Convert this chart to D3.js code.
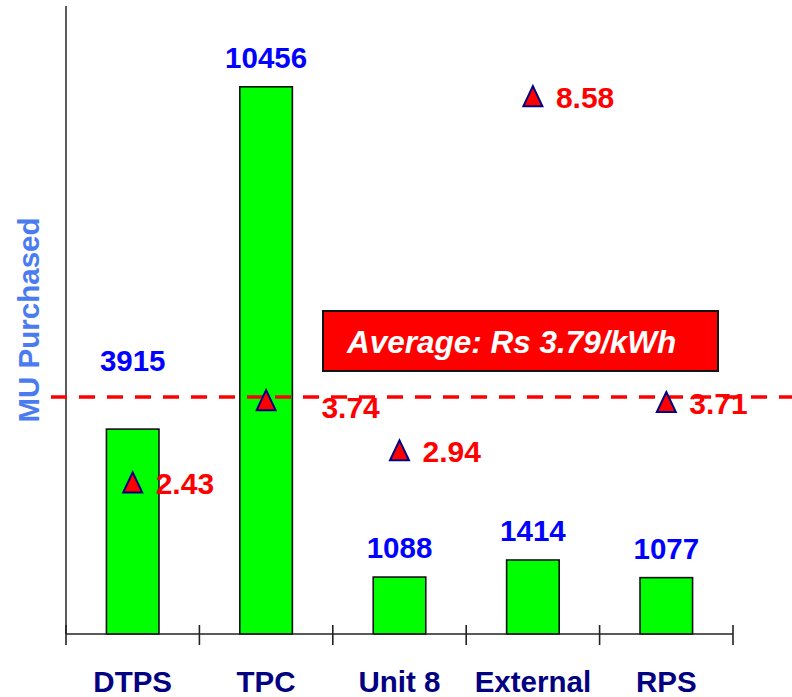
<!DOCTYPE html>
<html>
<head>
<meta charset="utf-8">
<script src="https://cdn.jsdelivr.net/npm/d3@7"></script>
<style>
  body { margin: 0; background: #fff; }
  text { font-family: "Liberation Sans", Arial, sans-serif; font-weight: bold; }
</style>
</head>
<body>
<div id="chart"></div>
<script>
const width = 792, height = 697;
const margin = {top: 6, right: 59, bottom: 63, left: 66};

// data
const plants = ["DTPS", "TPC", "Unit 8", "External", "RPS"];
const muPurchased = [3915, 10456, 1088, 1414, 1077];
const ratePerKwh = [2.43, 3.74, 2.94, 8.58, 3.71];
const averageRate = 3.79;
const averageLabel = "Average: Rs 3.79/kWh";
const yTitle = "MU Purchased";

const svg = d3.select('#chart').append('svg')
  .attr('width', width).attr('height', height)
  .attr('viewBox', `0 0 ${width} ${height}`);

const baseY = height - margin.bottom; // 634

const x = d3.scaleBand()
  .domain(plants)
  .range([margin.left, width - margin.right])
  .paddingInner(0.606)
  .paddingOuter(0.303);

const y = d3.scaleLinear().domain([0, 12000]).range([baseY, margin.top]);
const y2 = d3.scaleLinear().domain([0, 10]).range([baseY + 1, margin.top + 1]);

const cx = d => x(d) + x.bandwidth() / 2;
const avgY = y2(averageRate);

// bars
svg.append('g').selectAll('rect').data(plants)
  .join('rect')
  .attr('x', d => x(d))
  .attr('y', (d, i) => y(muPurchased[i]))
  .attr('width', x.bandwidth())
  .attr('height', (d, i) => baseY - y(muPurchased[i]))
  .attr('fill', '#00ff00')
  .attr('stroke', '#111')
  .attr('stroke-width', 1.6);

// axes
svg.append('line')
  .attr('x1', margin.left).attr('x2', margin.left)
  .attr('y1', margin.top).attr('y2', baseY)
  .attr('stroke', '#333').attr('stroke-width', 1.6);

const edges = plants.map(d => x(d) - x.step() * x.paddingOuter());
edges.push(width - margin.right);
const xAxis = svg.append('g');
xAxis.append('line')
  .attr('x1', margin.left).attr('x2', width - margin.right)
  .attr('y1', baseY).attr('y2', baseY)
  .attr('stroke', '#222').attr('stroke-width', 1.6);
xAxis.selectAll('.tick').data(edges).join('line')
  .attr('x1', d => d).attr('x2', d => d)
  .attr('y1', baseY - 9).attr('y2', baseY + 11)
  .attr('stroke', '#222').attr('stroke-width', 1.6);
xAxis.selectAll('.lbl').data(plants).join('text')
  .attr('x', d => cx(d)).attr('y', 692)
  .attr('text-anchor', 'middle')
  .attr('font-size', 29.5)
  .attr('fill', '#000080')
  .text(d => d);

// y title
svg.append('text')
  .attr('transform', `translate(39, 320) rotate(-90)`)
  .attr('text-anchor', 'middle')
  .attr('font-size', 29.5)
  .attr('fill', '#4a7cf0')
  .text(yTitle);

// bar value labels (moved above the average line when they would cross it)
svg.append('g').selectAll('text').data(plants)
  .join('text')
  .attr('x', d => cx(d))
  .attr('y', (d, i) => {
    let b = y(muPurchased[i]) - 19;
    if (b > avgY && b - 22 < avgY) b = avgY - 26;
    return b;
  })
  .attr('text-anchor', 'middle')
  .attr('font-size', 29.5)
  .attr('fill', '#0000ff')
  .text((d, i) => muPurchased[i]);

// average line
svg.append('line')
  .attr('x1', 51).attr('x2', width)
  .attr('y1', avgY).attr('y2', avgY)
  .attr('stroke', '#ff0000').attr('stroke-width', 3.5)
  .attr('stroke-dasharray', '16 12');

// average box (annotation)
const box = svg.append('g').attr('transform', `translate(323, ${avgY - 86})`);
box.append('rect')
  .attr('width', 395).attr('height', 60)
  .attr('fill', '#ff0000').attr('stroke', '#111').attr('stroke-width', 2);
box.append('text')
  .attr('x', 24).attr('y', 42)
  .attr('font-size', 31.5).attr('font-style', 'italic')
  .attr('fill', '#fff')
  .text(averageLabel);

// rate markers
const tri = 'M0,-10L9.5,10L-9.5,10Z';
svg.append('g').selectAll('path').data(plants)
  .join('path')
  .attr('transform', (d, i) => `translate(${cx(d)},${y2(ratePerKwh[i])})`)
  .attr('d', tri)
  .attr('fill', '#ff0000')
  .attr('stroke', '#000080')
  .attr('stroke-width', 2);

// rate labels (pushed clear of the bar and the average line where both are in the way)
svg.append('g').selectAll('text').data(plants)
  .join('text')
  .each(function (d, i) {
    const my = y2(ratePerKwh[i]);
    let lx = cx(d) + 23, ly = my + 12;
    const insideBar = my > y(muPurchased[i]);
    if (insideBar && Math.abs(my - avgY) < 15) { lx = x(d) + x.bandwidth() + 29; ly += 6; }
    d3.select(this).attr('x', lx).attr('y', ly);
  })
  .attr('font-size', 30)
  .attr('fill', '#ff0000')
  .text((d, i) => ratePerKwh[i].toFixed(2));
</script>
</body>
</html>
